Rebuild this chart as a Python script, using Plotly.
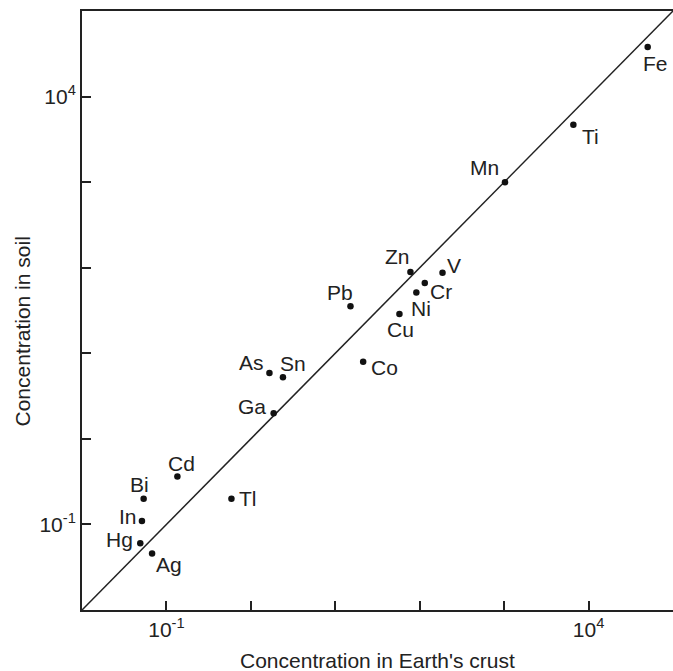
import plotly.graph_objects as go
import numpy as np

# Data (log10 values)
elements = ["Fe", "Ti", "Mn", "Zn", "V", "Cr", "Ni", "Cu", "Pb", "Co",
            "As", "Sn", "Ga", "Cd", "Bi", "In", "Hg", "Ag", "Tl"]
log_crust = [4.70, 3.82, 3.01, 1.89, 2.27, 2.06, 1.96, 1.76, 1.18, 1.33,
             0.22, 0.38, 0.27, -0.87, -1.27, -1.29, -1.31, -1.17, -0.23]
log_soil = [4.58, 3.67, 3.00, 1.95, 1.94, 1.82, 1.71, 1.46, 1.55, 0.90,
            0.77, 0.72, 0.30, -0.44, -0.70, -0.96, -1.22, -1.34, -0.70]
crust = [10 ** v for v in log_crust]
soil = [10 ** v for v in log_soil]

line_vals = [1e-2, 1e5]
tick_vals = [1e-2, 1e-1, 1e0, 1e1, 1e2, 1e3, 1e4, 1e5]
tick_text = ["", "10<sup>-1</sup>", "", "", "", "", "10<sup>4</sup>", ""]

# label offsets (pixels, screen: right +, down +)
label_offsets = {
    "Fe": (8, 17), "Ti": (17, 12), "Mn": (-20, -15), "Zn": (-13, -15),
    "V": (11, -7), "Cr": (16, 8), "Ni": (5, 16), "Cu": (1, 16),
    "Pb": (-10, -14), "Co": (21, 6), "As": (-18, -10), "Sn": (10, -14),
    "Ga": (-22, -7), "Cd": (4, -13), "Bi": (-4, -14), "In": (-14, -5),
    "Hg": (-21, -4), "Ag": (17, 11), "Tl": (17, 0),
}

FONT = "Liberation Sans, Arial, sans-serif"
INK = "#222222"
FS = 21

fig = go.Figure()
fig.add_trace(go.Scatter(x=line_vals, y=line_vals, mode="lines",
                         line=dict(color=INK, width=1.5), hoverinfo="skip",
                         showlegend=False))
fig.add_trace(go.Scatter(x=crust, y=soil, mode="markers",
                         marker=dict(color="#111111", size=6.5),
                         text=elements, showlegend=False))

for el, xv, yv in zip(elements, crust, soil):
    dx, dy = label_offsets[el]
    fig.add_annotation(x=np.log10(xv), y=np.log10(yv), xref="x", yref="y",
                       text=el, showarrow=False, xshift=dx, yshift=-dy,
                       font=dict(family=FONT, size=FS, color=INK))

fig.add_annotation(x=0.5, y=-0.062, xref="paper", yref="paper",
                   text="Concentration in Earth's crust", showarrow=False,
                   yanchor="top", font=dict(family=FONT, size=FS, color=INK))
fig.add_annotation(x=-0.1015, y=0.465, xref="paper", yref="paper",
                   text="Concentration in soil", showarrow=False, textangle=-90,
                   xanchor="center", yanchor="middle",
                   font=dict(family=FONT, size=FS, color=INK))

axis_common = dict(type="log", tickmode="array", tickvals=tick_vals,
                   ticktext=tick_text, ticks="inside", ticklen=9, tickwidth=1.5,
                   tickcolor=INK, showgrid=False, zeroline=False,
                   showline=True, linecolor=INK, linewidth=2,
                   tickfont=dict(family=FONT, size=FS, color=INK))
fig.update_xaxes(range=[-2, 5], mirror=True, **axis_common)
fig.update_yaxes(range=[-2, 5], **axis_common)

fig.update_layout(width=673, height=671,
                  margin=dict(l=82, r=0, t=11, b=61),
                  paper_bgcolor="white", plot_bgcolor="white")

fig.write_html("out.html", config={"displayModeBar": False},
               post_script="document.body.style.margin='0';"
                           "document.body.style.overflow='hidden';")
